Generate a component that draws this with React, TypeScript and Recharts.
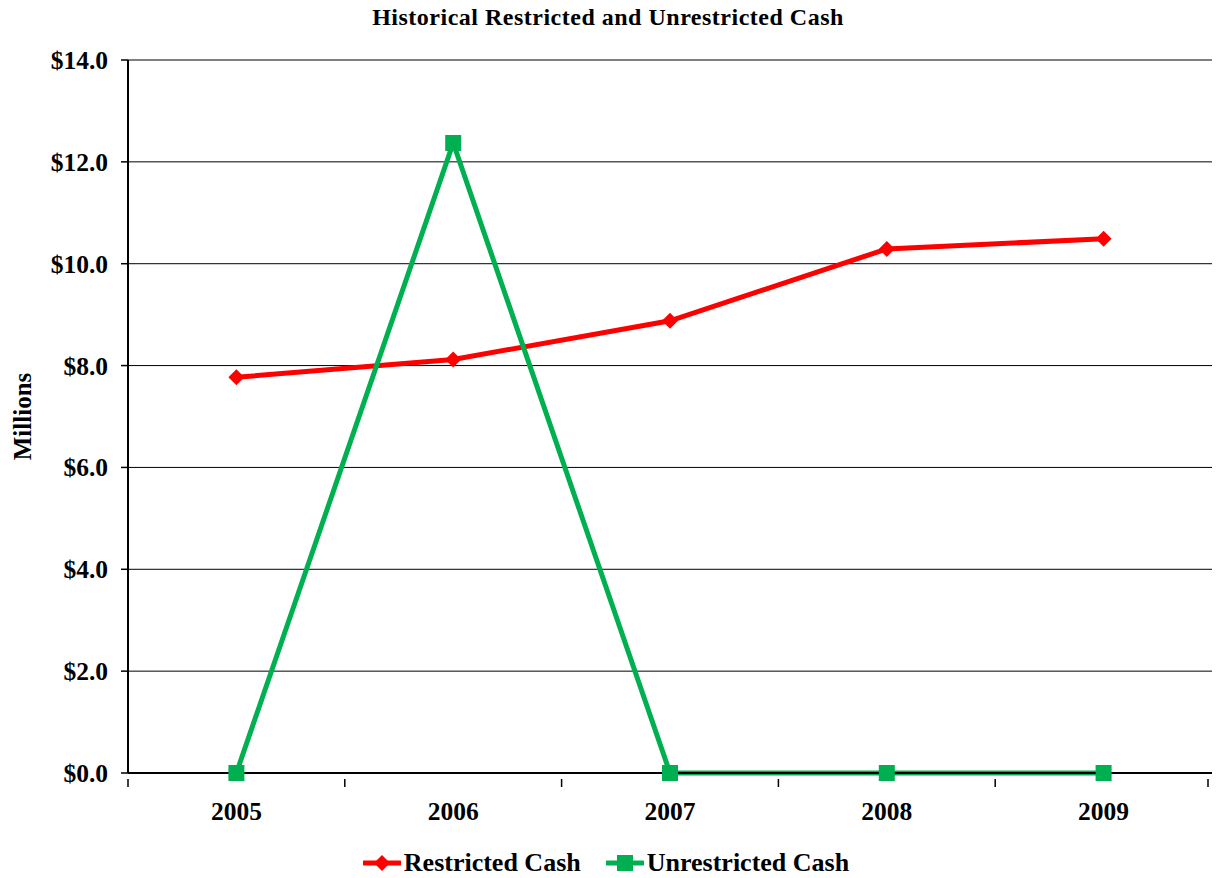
import { LineChart, Line, XAxis, YAxis, CartesianGrid, Legend } from "recharts";

const years = ["2005", "2006", "2007", "2008", "2009"];
const restrictedCash = [7.77, 8.12, 8.88, 10.29, 10.49];
const unrestrictedCash = [0, 12.37, 0, 0, 0];
const yTicks = [0, 2, 4, 6, 8, 10, 12, 14];

const data = years.map((year, i) => ({
  year,
  restricted: restrictedCash[i],
  unrestricted: unrestrictedCash[i],
}));

const FONT = "'Liberation Serif', 'Times New Roman', serif";
const RED = "#FF0000";
const GREEN = "#00B050";

const W = 1216;
const H = 878;
const M = { top: 60, right: 4, left: 0, bottom: 0 };
const Y_AXIS_W = 128;
const PLOT_W = W - M.left - M.right - Y_AXIS_W;
const BAND = PLOT_W / years.length;

const Diamond = (props: any) => {
  const { cx, cy } = props;
  if (cx == null || cy == null) return null;
  const r = 8;
  return (
    <path
      d={`M${cx},${cy - r} L${cx + r},${cy} L${cx},${cy + r} L${cx - r},${cy} Z`}
      fill={RED}
    />
  );
};

const Square = (props: any) => {
  const { cx, cy } = props;
  if (cx == null || cy == null) return null;
  const r = 8;
  return <rect x={cx - r} y={cy - r} width={r * 2} height={r * 2} fill={GREEN} />;
};

const XTick = (props: any) => {
  const { x, y, payload, index } = props;
  const left = x - BAND / 2;
  return (
    <g>
      <line x1={left} x2={left} y1={y - 2} y2={y + 6} stroke="#000" strokeWidth={1.5} />
      {index === years.length - 1 && (
        <line x1={x + BAND / 2 - 4} x2={x + BAND / 2 - 4} y1={y - 2} y2={y + 6} stroke="#000" strokeWidth={1.5} />
      )}
      <text
        x={x}
        y={y + 39}
        textAnchor="middle"
        fontFamily={FONT}
        fontWeight="bold"
        fontSize={25.5}
        fill="#000"
      >
        {payload.value}
      </text>
    </g>
  );
};

const MillionsLabel = (props: any) => {
  const { viewBox } = props;
  const cy = viewBox.y + viewBox.height / 2;
  const cx = 31;
  return (
    <text
      x={cx}
      y={cy}
      transform={`rotate(-90 ${cx} ${cy})`}
      textAnchor="middle"
      fontFamily={FONT}
      fontWeight="bold"
      fontSize={25}
      fill="#000"
    >
      Millions
    </text>
  );
};

const LegendContent = () => (
  <div
    style={{
      display: "flex",
      justifyContent: "center",
      gap: 25,
      fontFamily: FONT,
      fontWeight: "bold",
      fontSize: 26,
      color: "#000",
      paddingLeft: 0,
    }}
  >
    <div style={{ display: "flex", alignItems: "center", gap: 3 }}>
      <svg width={38} height={20}>
        <line x1={1} x2={37} y1={10} y2={10} stroke={RED} strokeWidth={5} strokeLinecap="round" />
        <path d="M19,2 L27,10 L19,18 L11,10 Z" fill={RED} />
      </svg>
      <span>Restricted Cash</span>
    </div>
    <div style={{ display: "flex", alignItems: "center", gap: 3 }}>
      <svg width={38} height={20}>
        <line x1={1} x2={37} y1={10} y2={10} stroke={GREEN} strokeWidth={5} strokeLinecap="round" />
        <rect x={11} y={2} width={16} height={16} fill={GREEN} />
      </svg>
      <span>Unrestricted Cash</span>
    </div>
  </div>
);

export default function App() {
  return (
    <div style={{ position: "absolute", left: 0, top: 0, width: W, height: H, background: "#fff" }}>
      <div
        style={{
          position: "absolute",
          top: 4,
          left: 0,
          width: W,
          textAlign: "center",
          fontFamily: FONT,
          fontWeight: "bold",
          fontSize: 24,
          letterSpacing: 0.5,
          color: "#000",
          zIndex: 1,
        }}
      >
        Historical Restricted and Unrestricted Cash
      </div>
      <LineChart width={W} height={H} data={data} margin={M}>
        <CartesianGrid vertical={false} stroke="#000" strokeWidth={1} />
        <XAxis
          dataKey="year"
          height={75}
          tickLine={false}
          axisLine={{ stroke: "#000", strokeWidth: 2 }}
          tick={<XTick />}
          interval={0}
          padding={{ left: BAND / 2, right: BAND / 2 }}
        />
        <YAxis
          width={Y_AXIS_W}
          domain={[0, 14]}
          ticks={yTicks}
          interval={0}
          tickFormatter={(v: number) => `$${v.toFixed(1)}`}
          axisLine={{ stroke: "#000", strokeWidth: 2 }}
          tickLine={{ stroke: "#000", strokeWidth: 1.5 }}
          tickSize={7}
          tickMargin={13}
          tick={{ fontFamily: FONT, fontWeight: "bold", fontSize: 25.5, fill: "#000" }}
          label={<MillionsLabel />}
        />
        <Legend verticalAlign="bottom" height={30} content={<LegendContent />} />
        <Line
          dataKey="restricted"
          stroke={RED}
          strokeWidth={5}
          dot={<Diamond />}
          activeDot={false}
          isAnimationActive={false}
        />
        <Line
          dataKey="unrestricted"
          stroke={GREEN}
          strokeWidth={5}
          dot={<Square />}
          activeDot={false}
          isAnimationActive={false}
        />
      </LineChart>
    </div>
  );
}
